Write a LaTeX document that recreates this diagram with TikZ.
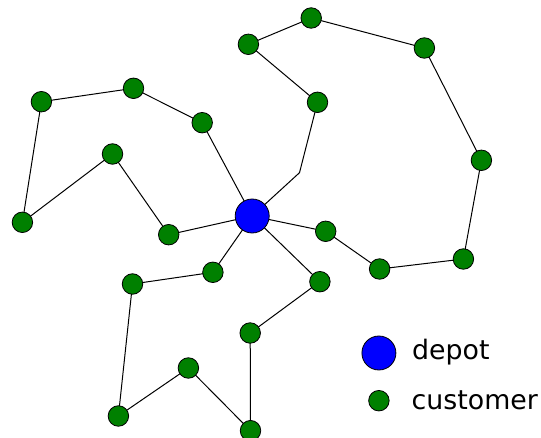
\documentclass[tikz,border=0pt]{standalone}
\usepackage{fontspec}
\setmainfont{DejaVu Sans}
\definecolor{custgreen}{RGB}{0,128,0}
\definecolor{depotblue}{RGB}{0,0,255}
\begin{document}
\begin{tikzpicture}[x=1pt,y=-1pt,
  cust/.style={circle,draw=black,line width=0.8pt,fill=custgreen,minimum size=20.5pt,inner sep=0pt},
  depotnode/.style={circle,draw=black,line width=0.8pt,fill=depotblue,minimum size=34pt,inner sep=0pt},
  route/.style={draw=black,line width=1pt},
  legtext/.style={anchor=west,inner sep=0pt,font=\fontsize{26.8}{30}\selectfont}]
\useasboundingbox (0,0) rectangle (541,438);
% coordinates
\coordinate (d) at (252.2,216);
\coordinate (a) at (41.4,101.7);
\coordinate (b) at (133.5,88.3);
\coordinate (c) at (202.2,122.7);
\coordinate (dd) at (22.4,222.3);
\coordinate (e) at (112.5,154);
\coordinate (f) at (168.7,234.7);
\coordinate (g) at (248.4,44.3);
\coordinate (h) at (311.2,18);
\coordinate (i) at (424.4,48);
\coordinate (j) at (481.4,160.3);
\coordinate (k) at (463.4,259);
\coordinate (l) at (379.6,269);
\coordinate (m) at (325.7,231.3);
\coordinate (n) at (317.5,102.3);
\coordinate (bend) at (299.5,172.7);
\coordinate (o) at (212.9,272.3);
\coordinate (p) at (132.5,284);
\coordinate (q) at (118.4,416);
\coordinate (r) at (188.4,368);
\coordinate (s) at (250.5,430.7);
\coordinate (t) at (250.2,333);
\coordinate (u) at (319.9,281.7);
% routes
\draw[route] (d) -- (c) -- (b) -- (a) -- (dd) -- (e) -- (f) -- (d);
\draw[route] (d) -- (bend) -- (n) -- (g) -- (h) -- (i) -- (j) -- (k) -- (l) -- (m) -- (d);
\draw[route] (d) -- (o) -- (p) -- (q) -- (r) -- (s) -- (t) -- (u) -- (d);
% nodes
\foreach \nm in {a,b,c,dd,e,f,g,h,i,j,k,l,m,n,o,p,q,r,s,t,u}
  \node[cust] (n\nm) at (\nm) {};
\node[depotnode] (ndepot) at (d) {};
% legend
\node[depotnode] (legdepot) at (378.9,353) {};
\node[cust] (legcust) at (378.9,400.7) {};
\node[legtext] (legdepottext) at (412,352) {depot};
\node[legtext] (legcusttext) at (411.5,400) {customer};
\end{tikzpicture}
\end{document}
